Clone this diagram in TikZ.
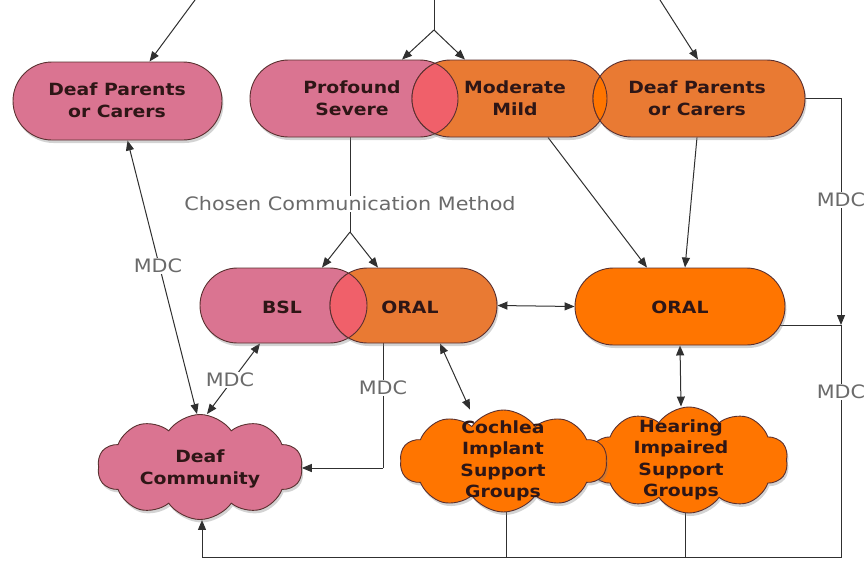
\documentclass[tikz,border=0pt]{standalone}
\usepackage{fontspec}
\setmainfont{DejaVu Sans}[FakeStretch=1.12]
\usetikzlibrary{shapes.misc,shapes.symbols,arrows.meta,shadows,calc}
\pgfdeclarelayer{bg}
\pgfsetlayers{bg,main}
\definecolor{pinkc}{HTML}{DA7491}
\definecolor{lensr}{HTML}{F0606A}
\definecolor{orgc}{HTML}{E97A33}
\definecolor{brorg}{HTML}{FF7500}
\definecolor{edgec}{HTML}{5A3030}
\definecolor{txtc}{HTML}{2E1616}
\definecolor{linec}{HTML}{303030}
\definecolor{mdcc}{HTML}{6A6A6A}
\tikzset{
  txt/.style={font=\bfseries\fontsize{16.8}{21.5}\selectfont, text=txtc, align=center, inner sep=0pt},
  mdc/.style={font=\fontsize{18.5}{21}\selectfont, text=mdcc, fill=white, inner sep=1pt},
  pill/.style={rounded rectangle, draw=edgec, line width=0.9pt, minimum height=77pt, inner sep=0pt,
    drop shadow={shadow xshift=1.5pt, shadow yshift=-3pt, opacity=0.35}},
  cloudy/.style={cloud, cloud puffs=10, cloud puff arc=110, aspect=2, draw=edgec, line width=0.9pt, inner sep=0pt,
    drop shadow={shadow xshift=1.5pt, shadow yshift=-3pt, opacity=0.35}},
  ln/.style={draw=linec, line width=1pt},
  arr/.style={ln, -{Triangle[length=10pt,width=8pt]}},
  darr/.style={ln, {Triangle[length=10pt,width=8pt]}-{Triangle[length=10pt,width=8pt]}},
}
\begin{document}
\begin{tikzpicture}[x=1pt,y=-1pt]
\useasboundingbox (0,0) rectangle (865,562);
% ---- top row pills
\node[pill, fill=pinkc, minimum width=209pt, minimum height=78pt] (dp1) at (117.5,101) {};
\node[pill, fill=pinkc, minimum width=208pt] (prof) at (354,98.5) {};
\node[pill, fill=orgc, minimum width=195pt] (mod) at (509.5,98.5) {};
\node[pill, fill=orgc, minimum width=212pt] (dp2) at (699,98.5) {};
% lenses
\begin{scope}
  \clip (419.5,98.5) circle[radius=38.5pt];
  \fill[lensr] (450.5,98.5) circle[radius=38.5pt];
\end{scope}
\begin{scope}
  \clip (419.5,98.5) circle[radius=38.5pt];
  \draw[edgec, line width=0.9pt] (450.5,98.5) circle[radius=38.5pt];
\end{scope}
\begin{scope}
  \clip (450.5,98.5) circle[radius=38.5pt];
  \draw[edgec, line width=0.9pt] (419.5,98.5) circle[radius=38.5pt];
\end{scope}
\begin{scope}
  \clip (568.5,98.5) circle[radius=38.5pt];
  \fill[brorg] (631.5,98.5) circle[radius=38.5pt];
\end{scope}
\begin{scope}
  \clip (568.5,98.5) circle[radius=38.5pt];
  \draw[edgec, line width=0.9pt] (631.5,98.5) circle[radius=38.5pt];
\end{scope}
\begin{scope}
  \clip (631.5,98.5) circle[radius=38.5pt];
  \draw[edgec, line width=0.9pt] (568.5,98.5) circle[radius=38.5pt];
\end{scope}
\node[txt] (tdp1) at (117,100) {Deaf Parents\\or Carers};
\node[txt] (tprof) at (352,98) {Profound\\Severe};
\node[txt] (tmod) at (515,98) {Moderate\\Mild};
\node[txt] (tdp2) at (697,98) {Deaf Parents\\or Carers};
% ---- middle row
\node[pill, fill=pinkc, minimum width=167pt, minimum height=75pt] (bsl) at (283.5,305.5) {};
\node[pill, fill=orgc, minimum width=167pt, minimum height=75pt] (oralm) at (413.5,305.5) {};
\begin{scope}
  \clip (329.5,305.5) circle[radius=37.5pt];
  \fill[lensr] (367.5,305.5) circle[radius=37.5pt];
\end{scope}
\begin{scope}
  \clip (329.5,305.5) circle[radius=37.5pt];
  \draw[edgec, line width=0.9pt] (367.5,305.5) circle[radius=37.5pt];
\end{scope}
\begin{scope}
  \clip (367.5,305.5) circle[radius=37.5pt];
  \draw[edgec, line width=0.9pt] (329.5,305.5) circle[radius=37.5pt];
\end{scope}
\node[txt] (tbsl) at (282,307) {BSL};
\node[txt] (toralm) at (410,307) {ORAL};
\node[pill, fill=brorg, minimum width=210pt] (oralR) at (680,306.5) {};
\node[txt] (toralR) at (680,307) {ORAL};
% ---- clouds
\node[cloudy, fill=pinkc, minimum width=205pt, minimum height=105pt] (dc) at (200,467) {};
\node[txt] (tdc) at (200,469) {Deaf\\Community};
\node[cloudy, fill=brorg, minimum width=198pt, minimum height=106pt] (hg) at (689,460) {};
\node[cloudy, fill=brorg, minimum width=207pt, minimum height=102pt] (cg) at (503.5,461) {};
\node[txt] (tcg) at (503,461) {Cochlea\\Implant\\Support\\Groups};
\node[txt] (thg) at (681,460) {Hearing\\Impaired\\Support\\Groups};
% ---- coordinates
\coordinate (t1) at (195,0);
\coordinate (f0) at (434,0);
\coordinate (f1) at (434,30);
\coordinate (t3) at (660,0);
\coordinate (f2) at (350,232);
\coordinate (c1) at (841,98.5);
\coordinate (c2) at (841,325);
\coordinate (c3) at (841,557);
\coordinate (c4) at (202,557);
\coordinate (c5) at (383,468);
% ---- connectors
\begin{pgfonlayer}{bg}
\draw[arr] (t1) -- ([xshift=32pt]dp1.north);
\draw[ln] (f0) -- (f1);
\draw[arr] (f1) -- ([xshift=48pt]prof.north);
\draw[arr] (f1) -- ([xshift=-44.5pt]mod.north);
\draw[arr] (t3) -- ([xshift=-1pt]dp2.north);
\draw[darr] ([xshift=10pt]dp1.south) -- ([xshift=-3pt]dc.north);
\draw[ln] ([xshift=-4pt]prof.south) -- (f2);
\draw[arr] (f2) -- ([xshift=38.5pt]bsl.north);
\draw[arr] (f2) -- ([xshift=-35.5pt]oralm.north);
\draw[arr] ([xshift=38.5pt]mod.south) -- ([xshift=-33pt]oralR.north);
\draw[arr] ([xshift=-2pt]dp2.south) -- ([xshift=5pt]oralR.north);
\draw[arr] (dp2.east) -- (c1) -- (c2);
\draw[ln] (oralR.center) -- (oralR.center |- c2) -- (c2);
\draw[ln] (c2) -- (c3) -- (c4);
\draw[arr] (c4) -- ([xshift=2pt]dc.south);
\draw[ln] ([xshift=2.5pt]cg.center) -- ([xshift=2.5pt]cg.center |- c3);
\draw[ln] ([xshift=-4pt]hg.center) -- ([xshift=-4pt]hg.center |- c3);
\draw[darr] (oralm.east) -- (oralR.west);
\draw[darr] (oralR.south) -- ([xshift=-8pt]hg.north);
\draw[darr] ([xshift=26.5pt]oralm.south) -- ([xshift=-33.5pt]cg.north);
\draw[ln] ([xshift=-30.5pt]oralm.south) -- (c5);
\draw[arr] (c5) -- (c5 -| dc.east);
\draw[darr] ([xshift=-23.5pt]bsl.south) -- ([xshift=7pt]dc.north);
\end{pgfonlayer}
% ---- labels
\node[mdc] (ccm) at (350,204) {Chosen Communication Method};
\node[mdc] (m1) at (158,266) {MDC};
\node[mdc] (m2) at (230,380) {MDC};
\node[mdc] (m3) at (383,388) {MDC};
\node[mdc] (m4) at (841,200) {MDC};
\node[mdc] (m5) at (841,392) {MDC};
\end{tikzpicture}
\end{document}
